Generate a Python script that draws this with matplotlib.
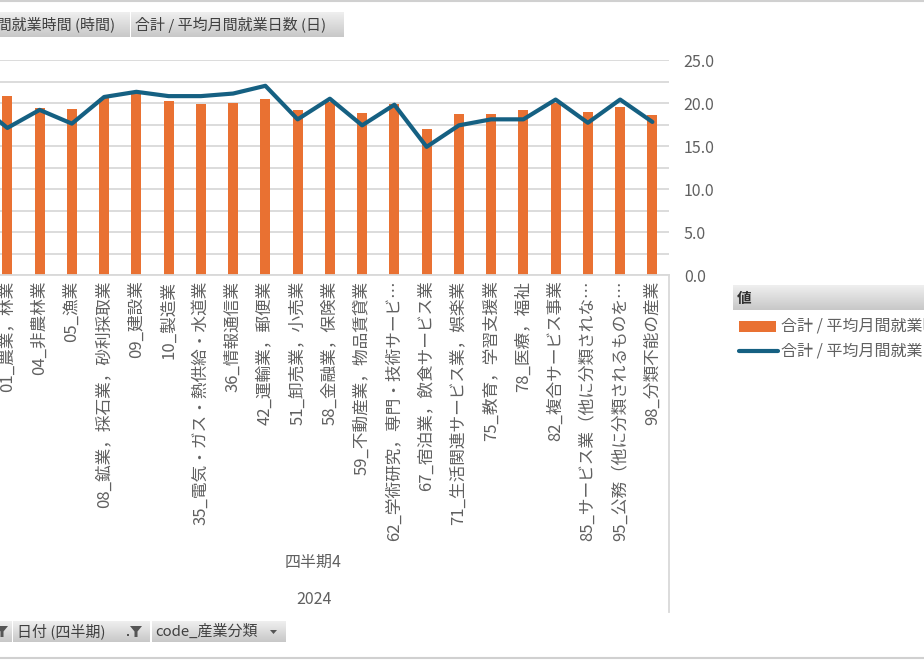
import numpy as np
import matplotlib.pyplot as plt
from matplotlib.colors import LinearSegmentedColormap
from matplotlib.patches import Rectangle, Polygon

plt.rcParams['font.family'] = ['Noto Sans CJK JP', 'DejaVu Sans']

W, H = 924, 660

# 産業分類 (先頭の1件は画面外)
categories = [
    "00_全産業",
    "01_農業，林業",
    "04_非農林業",
    "05_漁業",
    "08_鉱業，採石業，砂利採取業",
    "09_建設業",
    "10_製造業",
    "35_電気・ガス・熱供給・水道業",
    "36_情報通信業",
    "42_運輸業，郵便業",
    "51_卸売業，小売業",
    "58_金融業，保険業",
    "59_不動産業，物品賃貸業",
    "62_学術研究，専門・技術サービ…",
    "67_宿泊業，飲食サービス業",
    "71_生活関連サービス業，娯楽業",
    "75_教育，学習支援業",
    "78_医療，福祉",
    "82_複合サービス事業",
    "85_サービス業（他に分類されな…",
    "95_公務（他に分類されるものを…",
    "98_分類不能の産業",
]
# 合計 / 平均月間就業時間 (時間)  -> 主軸 (画面外, 0-200)
hours = [160.0, 166.8, 155.6, 154.7, 164.9, 169.0, 161.6, 159.4, 160.0, 163.4, 153.8,
         160.9, 150.4, 158.8, 135.8, 149.8, 149.8, 153.5, 159.7, 151.9, 156.6, 148.8]
# 合計 / 平均月間就業日数 (日)  -> 第2軸
days = [20.2, 17.1, 19.2, 17.6, 20.7, 21.3, 20.8, 20.8, 21.1, 22.0, 18.1,
        20.5, 17.4, 19.8, 14.9, 17.4, 18.1, 18.1, 20.4, 17.7, 20.4, 17.8]
hour_ticks = list(range(0, 201, 20))
day_ticks = [0, 5, 10, 15, 20, 25]
quarter_label = "四半期4"
year_label = "2024"
series_names = ["合計 / 平均月間就業時間 (時間)", "合計 / 平均月間就業日数 (日)"]

ORANGE = '#E97132'
BLUE = '#156082'
GRID = '#D9D9D9'
TXT = '#606060'


def px_rect(x0, y0, x1, y1):
    return [x0 / W, 1 - y1 / H, (x1 - x0) / W, (y1 - y0) / H]


fig = plt.figure(figsize=(W / 100, H / 100), dpi=100)

# メインのグラフ (左端は切れている)
ax = fig.add_axes(px_rect(-41, 60, 668.5, 275))
x = np.arange(len(categories))
ax.bar(x, hours, width=0.31, color=ORANGE, zorder=2)
ax.set_xlim(-0.5, len(categories) - 0.5)
ax.set_ylim(hour_ticks[0], hour_ticks[-1])
ax.set_yticks(hour_ticks)
ax.yaxis.grid(True, color=GRID, lw=1.3)
ax.set_axisbelow(True)
for s in ['top', 'left', 'right']:
    ax.spines[s].set_visible(False)
ax.spines['bottom'].set_color(GRID)
ax.spines['bottom'].set_linewidth(1.3)
ax.tick_params(axis='y', length=0, labelleft=False)
ax.set_xticks(x)
ax.set_xticklabels(categories, rotation=90, fontsize=12, color=TXT)
ax.tick_params(axis='x', length=0, pad=4)

ax2 = ax.twinx()
ax2.plot(x, days, color=BLUE, lw=3, solid_joinstyle='round',
         solid_capstyle='round', zorder=3)
ax2.set_ylim(day_ticks[0], day_ticks[-1])
ax2.set_yticks(day_ticks)
ax2.set_yticklabels([f'{v:.1f}' for v in day_ticks])
ax2.tick_params(axis='y', length=0, pad=11, labelsize=11.5, labelcolor=TXT)
for s in ax2.spines.values():
    s.set_visible(False)

# 重ね描き用 (ピクセル座標)
ov = fig.add_axes([0, 0, 1, 1], zorder=5)
ov.axis('off')

grad = np.linspace(0, 1, 32).reshape(-1, 1)
btn_cmap = LinearSegmentedColormap.from_list('btn', ['#EFEFEF', '#C8C8C8'])


def button(x0, y0, x1, y1):
    ov.imshow(grad, extent=(x0, x1, y1, y0), cmap=btn_cmap, aspect='auto',
              interpolation='bilinear')


def funnel(cx, cy, s=1.0):
    pts = [(cx - 6 * s, cy - 5 * s), (cx + 6 * s, cy - 5 * s), (cx + 1.5 * s, cy + 0.5 * s),
           (cx + 1.5 * s, cy + 6 * s), (cx - 1.5 * s, cy + 6 * s), (cx - 1.5 * s, cy + 0.5 * s)]
    ov.add_patch(Polygon(pts, closed=True, color='#555555', lw=0))


# 上のフィールドボタン
button(-50, 12, 130, 37)
button(131, 12, 344, 37)
ov.text(115, 24.5, series_names[0], ha='right', va='center', fontsize=10.8, color='#404040')
ov.text(135, 24.5, series_names[1], ha='left', va='center', fontsize=10.8, color='#404040')

# 下のフィールドボタン
button(-50, 621, 12, 642)
button(13, 621, 150, 642)
button(152, 621, 286, 642)
funnel(2, 631)
ov.text(17, 631.5, "日付 (四半期)", ha='left', va='center', fontsize=10.8, color='#404040')
ov.add_patch(Rectangle((127, 634), 2, 2, color='#555555', lw=0))
funnel(136, 631)
ov.text(155, 631.5, "code_産業分類", ha='left', va='center', fontsize=10.8, color='#404040')
ov.add_patch(Polygon([(270, 630), (277, 630), (273.5, 634)], closed=True, color='#555555', lw=0))

# 凡例
button(733, 285, 960, 310)
ov.text(737, 297.5, "値", ha='left', va='center', fontsize=10.5, color='#303030',
        fontweight='bold')
ov.add_patch(Rectangle((739, 321), 37, 11, color=ORANGE, lw=0))
ov.text(781, 326, series_names[0], ha='left', va='center', fontsize=11.5, color=TXT)
ov.plot([739, 778], [351, 351], color=BLUE, lw=3, solid_capstyle='round')
ov.text(781, 351, series_names[1], ha='left', va='center', fontsize=11.5, color=TXT)

# 軸ラベル (四半期・年)
ov.text(313, 562, quarter_label, ha='center', va='center', fontsize=11.5, color=TXT)
ov.text(314, 600, year_label, ha='center', va='center', fontsize=11.5, color=TXT)

# 区切り線・枠線
ov.plot([668.5, 668.5], [275, 612], color=GRID, lw=1.3)
ov.plot([0, W], [1, 1], color='#D0D0D0', lw=1.5)
ov.plot([0, W], [658, 658], color='#D0D0D0', lw=1.5)

ov.set_xlim(0, W)
ov.set_ylim(H, 0)

fig.savefig('out.png', dpi=100)
